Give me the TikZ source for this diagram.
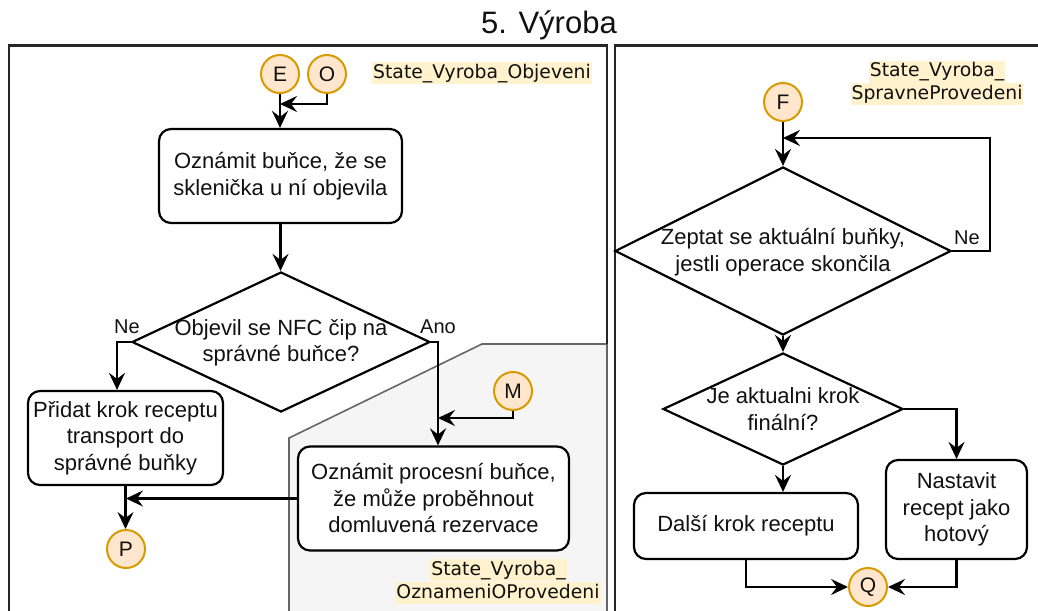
\documentclass[tikz,border=0pt]{standalone}
\usepackage{fontspec}
\setmainfont{Liberation Sans}
\newfontfamily\tagfont{DejaVu Sans}
\usetikzlibrary{arrows.meta,shapes.geometric,calc}

\definecolor{bubblefill}{HTML}{FFE6CC}
\definecolor{bubbleline}{HTML}{D79B00}
\definecolor{tagfill}{HTML}{FFF2CC}
\definecolor{zonefill}{HTML}{F5F5F5}
\definecolor{zoneline}{HTML}{666666}
\definecolor{framec}{HTML}{262626}
\definecolor{inkc}{HTML}{111111}

\begin{document}
\begin{tikzpicture}[x=1pt,y=-1pt,
  every node/.style={inner sep=0pt, text=inkc},
  body/.style={font=\fontsize{22}{26.5}\selectfont, align=center},
  stepbox/.style={body, draw=black, fill=white, line width=2.2pt, rounded corners=12pt},
  decision/.style={diamond, draw=black, fill=white, line width=2.2pt, inner sep=0pt},
  bubble/.style={circle, draw=bubbleline, fill=bubblefill, line width=2pt,
    minimum size=38pt, font=\fontsize{21}{25}\selectfont},
  flow/.style={draw=black, line width=2.2pt,
    -{Stealth[length=17pt,width=16pt,inset=6pt]}},
  branch/.style={font=\fontsize{20}{24}\selectfont},
  tag/.style={fill=tagfill, font=\tagfont\fontsize{18.8}{22}\selectfont,
    inner xsep=1pt, inner ysep=1.5pt, text height=14.5pt, text depth=4.5pt},
  frame/.style={draw=framec, line width=2.2pt},
]
\useasboundingbox (0,0) rectangle (1038,610);

% heading
\node[font=\fontsize{31}{36}\selectfont] (title) at (549,25) {5. Výroba};

% shaded sub-state area and the two state frames
\draw[draw=zoneline, fill=zonefill, line width=1.6pt]
  (289,616) -- (289,438) -- (482,344) -- (607,344) -- (607,616);
\draw[frame] (9,616) -- (9,45.5) -- (607,45.5) -- (607,344);
\draw[frame] (615,616) -- (615,45.5) -- (1045,45.5);

% state names
\node[tag] (tagA)  at (482,73)    {State\_Vyroba\_Objeveni};
\node[tag] (tagB1) at (937,72)    {State\_Vyroba\_};
\node[tag] (tagB2) at (937,94)    {SpravneProvedeni};
\node[tag] (tagC1) at (498.5,570) {State\_Vyroba\_};
\node[tag] (tagC2) at (498,593)   {OznameniOProvedeni};

% ---- left state ----
\node[bubble] (E) at (280,74) {E};
\node[bubble] (O) at (327,74) {O};
\node[stepbox, minimum width=243pt, minimum height=94pt] (b1) at (280.5,176)
  {Oznámit buňce, že se\\sklenička u ní objevila};
\node[decision, minimum width=298pt, minimum height=140pt] (d1) at (281,342) {};
\node[body] (d1t) at (281,343) {Objevil se NFC čip na\\správné buňce?};
\node[stepbox, minimum width=195pt, minimum height=94pt] (b2) at (125.5,438)
  {Přidat krok receptu\\transport do\\správné buňky};
\node[bubble] (M) at (513,391) {M};
\node[stepbox, minimum width=271pt, minimum height=104pt] (b3) at (433.5,498.5)
  {Oznámit procesní buňce,\\že může proběhnout\\domluvená rezervace};
\node[bubble] (P) at (126,549) {P};

\node[branch] (ne1) at (127,327) {Ne};
\node[branch] (ano) at (438,327) {Ano};

\coordinate (ojoin) at (280,104);
\coordinate (mjoin) at (438,418);

\draw[flow] (E.south) -- (E.south |- b1.north);
\draw[flow] (O.south) |- (ojoin);
\draw[flow] (b1.south) -- (b1.south |- d1.north);
\draw[flow] (d1.west) -| ([xshift=-8.5pt]b2.north);
\draw[flow] (d1.east) -| ([xshift=4.5pt]b3.north);
\draw[flow] (M.south) |- (mjoin);
\draw[flow] (b2.south) -- (b2.south |- P.north);
\draw[flow] (b3.west) -- (b3.west -| P);

% ---- right state ----
\node[bubble] (F) at (783,102) {F};
\node[decision, minimum width=336pt, minimum height=168pt] (d2) at (783,251) {};
\node[body] (d2t) at (783,252) {Zeptat se aktuální buňky,\\jestli operace skončila};
\node[decision, minimum width=240pt, minimum height=112pt] (d3) at (783,409) {};
\node[body] (d3t) at (783,409) {Je aktualni krok\\finální?};
\node[stepbox, minimum width=224pt, minimum height=66pt] (b5) at (746,526)
  {Další krok receptu};
\node[stepbox, minimum width=141pt, minimum height=99pt] (b4) at (956.5,509.5)
  {Nastavit\\recept jako\\hotový};
\node[bubble] (Q) at (868,587) {Q};

\node[branch] (ne2) at (967,238) {Ne};

\coordinate (fjoin) at (783,138);

\draw[flow] (F.south) -- (d2.north);
\draw[flow] (d2.east) -- ++(38,0) |- (fjoin);
\draw[flow] (d2.south) -- (d3.north);
\draw[flow] (d3.south) -- (d3.south |- b5.north);
\draw[flow] (d3.east) -| (b4.north);
\draw[flow] (b5.south) |- (Q.west);
\draw[flow] (b4.south) |- (Q.east);
\end{tikzpicture}
\end{document}
